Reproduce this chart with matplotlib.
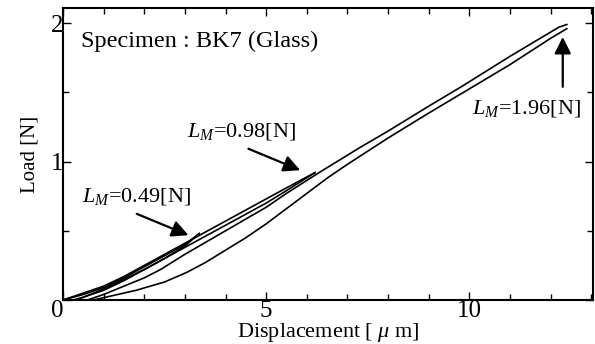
import numpy as np
import matplotlib.pyplot as plt

plt.rcParams['font.family'] = ['Liberation Serif', 'DejaVu Serif']
plt.rcParams['mathtext.fontset'] = 'custom'
plt.rcParams['mathtext.it'] = 'Liberation Serif:italic'
plt.rcParams['mathtext.rm'] = 'Liberation Serif'

# LM = 0.49 N cycle (displacement um, load N)
load049_x = [0.0, 0.5, 1.0, 1.5, 2.0, 2.5, 3.0, 3.35]
load049_y = [0.0, 0.04, 0.09, 0.16, 0.24, 0.32, 0.40, 0.48]
unload049_x = [3.35, 3.0, 2.5, 2.0, 1.5, 1.0, 0.5, 0.25]
unload049_y = [0.48, 0.39, 0.30, 0.22, 0.14, 0.07, 0.02, 0.0]

# LM = 0.98 N cycle
load098_x = [0.0, 0.5, 1.0, 1.5, 2.0, 2.5, 3.0, 3.5, 4.0, 4.5, 5.0, 5.5, 6.2]
load098_y = [0.0, 0.05, 0.10, 0.17, 0.25, 0.33, 0.41, 0.49, 0.57, 0.65, 0.73, 0.81, 0.92]
unload098_x = [6.2, 5.5, 5.0, 4.0, 3.0, 2.0, 1.5, 1.0, 0.5, 0.35]
unload098_y = [0.92, 0.79, 0.70, 0.54, 0.38, 0.22, 0.15, 0.08, 0.02, 0.0]

# LM = 1.96 N cycle
load196_x = [0.75, 1.2, 1.8, 2.5, 3.05, 3.5, 4.0, 4.5, 5.0, 5.5, 6.0, 6.5, 7.0, 8.0, 9.0, 9.8, 11.0, 12.0, 12.4]
load196_y = [0.0, 0.03, 0.07, 0.13, 0.20, 0.27, 0.36, 0.45, 0.55, 0.66, 0.77, 0.88, 0.98, 1.17, 1.35, 1.49, 1.70, 1.89, 1.96]
unload196_x = [12.4, 12.2, 11.0, 9.8, 9.0, 8.0, 7.3, 6.3, 5.5, 5.0, 4.0, 3.0, 2.4, 2.0, 1.5, 1.0, 0.6]
unload196_y = [1.99, 1.97, 1.76, 1.54, 1.40, 1.22, 1.10, 0.92, 0.77, 0.67, 0.50, 0.33, 0.22, 0.16, 0.10, 0.04, 0.0]

fig = plt.figure(figsize=(5.95, 3.44), dpi=100)
ax = fig.add_axes([0.106, 0.128, 0.891, 0.849])

for xs, ys in [(load049_x, load049_y), (unload049_x, unload049_y),
               (load098_x, load098_y), (unload098_x, unload098_y),
               (load196_x, load196_y), (unload196_x, unload196_y)]:
    ax.plot(xs, ys, color='black', lw=1.2)

ax.set_xlim(0, 13.05)
ax.set_ylim(0, 2.11)
ax.set_xticks([0, 5, 10])
ax.set_xticks(np.arange(0, 13.1, 1), minor=True)
ax.set_yticks([0, 1, 2])
ax.set_yticklabels(['', '1', '2'])
ax.set_yticks([0.5, 1.5], minor=True)
ax.tick_params(which='both', direction='in', top=True, right=True, labelsize=18, width=1)
ax.tick_params(which='major', length=6, pad=0)
ax.tick_params(which='minor', length=4)
ax.get_xticklabels()[0].set_ha('right')
for s in ax.spines.values():
    s.set_linewidth(1.5)

ax.set_xlabel('Displacement [ $\\mu$ m]', fontsize=16, labelpad=-1)
ax.set_ylabel('Load [N]', fontsize=15, labelpad=8)

ax.text(0.45, 1.87, 'Specimen : BK7 (Glass)', fontsize=17.5, va='center', ha='left')

arrow = dict(arrowstyle='-|>', color='black', lw=1.6, mutation_scale=25)
ax.annotate('', xy=(3.15, 0.46), xytext=(1.75, 0.63), arrowprops=arrow)
ax.text(1.8, 0.75, '$L_M$=0.49[N]', fontsize=16, ha='center', va='center')
ax.annotate('', xy=(5.9, 0.93), xytext=(4.5, 1.10), arrowprops=arrow)
ax.text(4.4, 1.22, '$L_M$=0.98[N]', fontsize=16, ha='center', va='center')
ax.annotate('', xy=(12.3, 1.92), xytext=(12.3, 1.52), arrowprops=arrow)
ax.text(11.4, 1.38, '$L_M$=1.96[N]', fontsize=16, ha='center', va='center')

fig.savefig('out.png', dpi=100)
